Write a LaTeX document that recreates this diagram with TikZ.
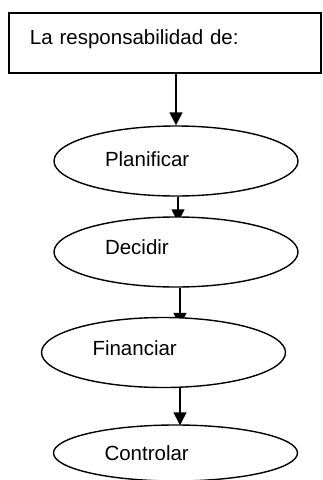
\documentclass[tikz,border=0pt]{standalone}
\usepackage{fontspec}
\setmainfont{Liberation Sans}
\usetikzlibrary{arrows.meta, shapes.geometric, backgrounds}

\begin{document}
\begin{tikzpicture}[x=1pt,y=-1pt,
  font=\fontsize{20.5}{24}\selectfont,
  caja/.style={draw, line width=1.4pt, fill=white, minimum width=312pt,
    minimum height=60pt, text width=270pt, align=left, text depth=11pt, inner sep=0pt},
  ovalo/.style={ellipse, draw, line width=1.4pt, fill=white, minimum width=244pt,
    minimum height=70pt, text width=142pt, align=left, inner sep=0pt},
  flecha/.style={line width=1.4pt, -{Triangle[length=13pt,width=13pt]}}]
\useasboundingbox (0,0) rectangle (322,480);
\node[caja] (resp) at (165,43) {La responsabilidad de:};
\node[ovalo, text depth=3pt] (plan) at (176,161) {Planificar};
\node[ovalo, text depth=9pt] (dec) at (176,252) {Decidir};
\node[ovalo, text depth=9pt] (fin) at (163.5,352.5) {Financiar};
\node[ovalo, minimum height=56pt] (ctrl) at (175.5,453) {Controlar};
\coordinate (eje) at (180,0);
% flechas por debajo de los ovalos
\begin{scope}[on background layer]
\draw[flecha] (resp.south -| plan.north) -- (plan.north);
\draw[flecha, shorten >=-6pt] ([xshift=2pt]plan.south) -- ([xshift=2pt]dec.north);
\draw[flecha, shorten >=-9pt] (dec.south -| eje) -- (fin.north -| eje);
\draw[flecha, shorten >=-1pt] (fin.south -| eje) -- (ctrl.north -| eje);
\end{scope}
\end{tikzpicture}
\end{document}
